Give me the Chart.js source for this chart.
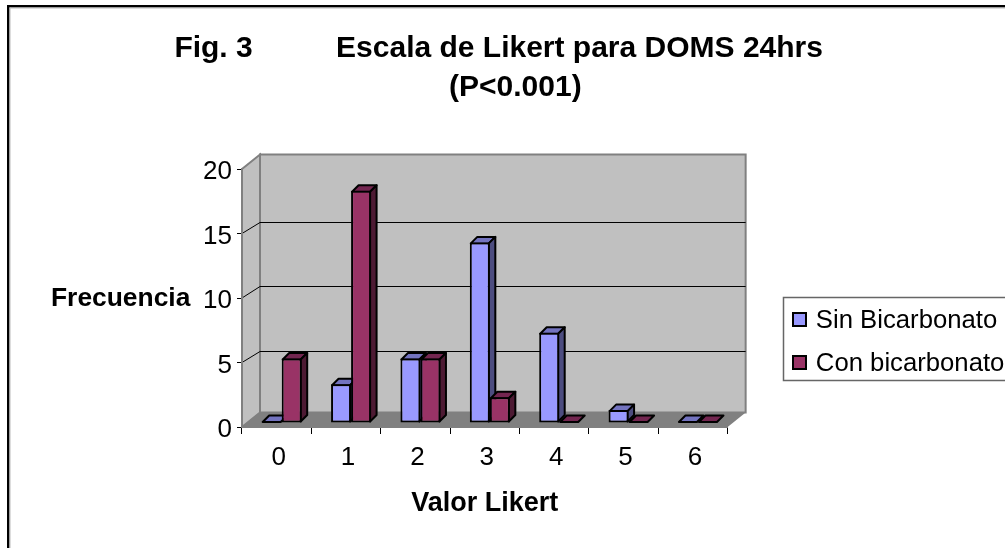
<!DOCTYPE html>
<html>
<head>
<meta charset="utf-8">
<style>html,body{margin:0;padding:0;background:#fff}canvas{display:block}</style>
<script src="https://cdn.jsdelivr.net/npm/chart.js@4"></script>
</head>
<body>
<canvas id="c" width="1005" height="548"></canvas>
<script>
const titleLines = ["    Fig. 3          Escala de Likert para DOMS 24hrs", "        (P<0.001)"];
const categories = ["0","1","2","3","4","5","6"];
const sinBicarbonato = [0,3,5,14,7,1,0];
const conBicarbonato = [5,18,5,2,0,0,0];
const seriesNames = ["Sin Bicarbonato","Con bicarbonato"];
const seriesColors = ["#9999FF","#993366"];
const seriesSide = ["#4D4D80","#4D1A33"];
const seriesTop = ["#7373BF","#732650"];
const yTitle = "Frecuencia";
const xTitle = "Valor Likert";
const FONT = "'Liberation Sans', Arial, sans-serif";

function shiftLabels(scale, sx, sy) {
  if (scale.__shifted) return;
  scale.__shifted = true;
  const orig = scale.drawLabels.bind(scale);
  scale.drawLabels = (area) => {
    const c = scale.ctx;
    c.save(); c.translate(sx, sy); orig(area); c.restore();
  };
}

const threeD = {
  id: "threeD",
  beforeDraw(chart) {
    const c = chart.ctx, a = chart.chartArea, y = chart.scales.y;
    const dx = 18, dy = -14.5, gdy = -12;
    c.save();
    c.fillStyle = "#fff"; c.fillRect(0,0,chart.width,chart.height);
    c.fillStyle = "#000";
    c.fillRect(7,5,chart.width-7,2.5); c.fillRect(7,5,2.5,chart.height-5);
    c.fillStyle = "#bbb";
    c.fillRect(9.5,7.5,chart.width-9.5,1); c.fillRect(9.5,7.5,1,chart.height-7.5);
    c.lineJoin = "miter";
    const poly = (pts, fill, stroke, w) => {
      c.beginPath(); pts.forEach((p,i)=> i? c.lineTo(p[0],p[1]) : c.moveTo(p[0],p[1])); c.closePath();
      c.fillStyle = fill; c.fill();
      if (stroke) { c.strokeStyle = stroke; c.lineWidth = w; c.stroke(); }
    };
    const L=a.left,R=a.right,T=a.top,B=a.bottom;
    poly([[L,T],[L+dx,T+dy],[L+dx,B+dy],[L,B]],"#C0C0C0","#808080",2);
    poly([[L+dx,T+dy],[R+dx,T+dy],[R+dx,B+dy],[L+dx,B+dy]],"#C0C0C0","#808080",2);
    poly([[L,B],[L+dx,B+dy],[R+dx,B+dy],[R,B]],"#808080");
    c.strokeStyle = "#000"; c.lineWidth = 1;
    y.ticks.forEach(t=>{
      if (t.value===0||t.value===y.max) return;
      const py = y.getPixelForValue(t.value);
      const by = Math.round(py+gdy)+0.5;
      c.beginPath(); c.moveTo(L,py); c.lineTo(L+dx,by); c.lineTo(R+dx,by); c.stroke();
    });
    c.restore();
  },
  beforeDatasetsDraw(chart) {
    const c = chart.ctx;
    const ox = 5, oy = -4, d = 6.5;
    c.save();
    c.translate(ox,oy);
    [0,1].forEach(i=>{
      const meta = chart.getDatasetMeta(i);
      meta.data.forEach(bar=>{
        const p = bar.getProps(["x","y","base","width"],true);
        const l = p.x-p.width/2+1, r = p.x+p.width/2-1, t = p.y+1, b = p.base-1;
        const flat = p.y>=p.base-0.01;
        const T = flat ? p.base-1 : t;
        c.lineWidth = 2; c.strokeStyle = "#000"; c.lineJoin="round";
        c.beginPath(); c.moveTo(l,T); c.lineTo(l+d,T-d); c.lineTo(r+d,T-d); c.lineTo(r,T); c.closePath();
        c.fillStyle = seriesTop[i]; c.fill(); c.stroke();
        if (!flat) {
          c.beginPath(); c.moveTo(r,T); c.lineTo(r+d,T-d); c.lineTo(r+d,b-d); c.lineTo(r,b); c.closePath();
          c.fillStyle = seriesSide[i]; c.fill(); c.stroke();
        }
      });
      meta.controller.draw();
    });
    c.restore();
    return false;
  },
  afterLayout(chart) {
    const l = chart.legend;
    const w = l.width, h = l.height;
    l.left = 778; l.right = l.left+w; l.top = 291; l.bottom = l.top+h;
    shiftLabels(chart.scales.y, 0, 3);
    shiftLabels(chart.scales.x, 2, 0);
  },
  afterDraw(chart) {
    const c = chart.ctx;
    c.save();
    c.strokeStyle = "#666"; c.lineWidth = 1.5;
    c.beginPath(); c.moveTo(chart.width,297.5); c.lineTo(783.5,297.5); c.lineTo(783.5,380.5); c.lineTo(chart.width,380.5); c.stroke();
    [0,1].forEach(i=>{
      const yy = 313 + i*43;
      c.fillStyle = seriesColors[i]; c.fillRect(793,yy,13,13);
      c.strokeStyle="#000"; c.lineWidth=2; c.strokeRect(793,yy,13,13);
    });
    c.fillStyle="#000"; c.font="bold 26.4px "+FONT; c.textAlign="left"; c.textBaseline="middle";
    c.fillText(yTitle,51,299);
    c.restore();
  }
};

new Chart(document.getElementById("c"), {
  type: "bar",
  plugins: [threeD],
  data: {
    labels: categories,
    datasets: [
      {label: seriesNames[0], data: sinBicarbonato, backgroundColor: seriesColors[0], borderColor:"#000", borderWidth:2, borderSkipped:false, barPercentage:1, categoryPercentage:0.577},
      {label: seriesNames[1], data: conBicarbonato, backgroundColor: seriesColors[1], borderColor:"#000", borderWidth:2, borderSkipped:false, barPercentage:1, categoryPercentage:0.577}
    ]
  },
  options: {
    responsive:false, animation:false,
    layout:{padding:{left:0,right:41,top:0,bottom:0}},
    plugins:{
      tooltip:{enabled:false},
      title:{display:true,text:titleLines,color:"#000",font:{family:FONT,size:30,weight:"bold",lineHeight:1.3},padding:{top:29,bottom:62}},
      legend:{display:true,position:"right",align:"start",
        labels:{color:"#000",font:{family:FONT,size:25.7},boxWidth:8,boxHeight:10,padding:17}}
    },
    scales:{
      x:{
        grid:{drawOnChartArea:false,color:"#000",tickLength:7,offset:true},
        border:{color:"#808080",width:2},
        ticks:{color:"#000",font:{family:FONT,size:26},padding:8,maxRotation:0},
        title:{display:true,text:xTitle,color:"#000",font:{family:FONT,size:27,weight:"bold"},padding:{top:0,bottom:28}},
        afterFit(s){s.height=121;}
      },
      y:{
        min:0,max:20,
        grid:{drawOnChartArea:false,color:"#000",tickLength:5},
        border:{color:"#808080",width:2},
        ticks:{color:"#000",stepSize:5,font:{family:FONT,size:26},padding:5},
        afterFit(s){s.width=242;}
      }
    }
  }
});
</script>
</body>
</html>
